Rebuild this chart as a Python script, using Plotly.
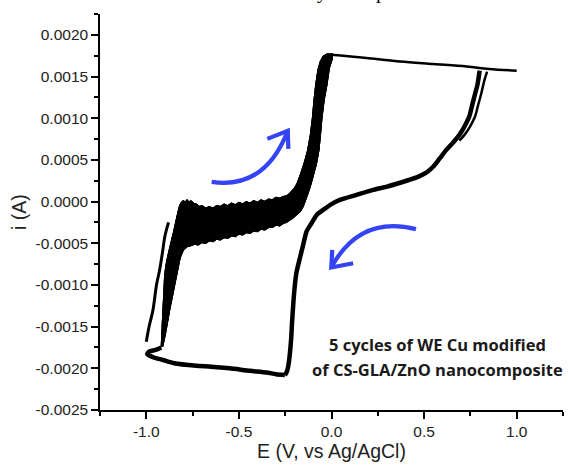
import plotly.graph_objects as go

# ---------------- data ----------------
# noisy forward sweep (band + steep rise): upper/left edge (bottom-left -> top corner)
band_upper_E = [-0.919, -0.914, -0.910, -0.905, -0.901, -0.896, -0.890, -0.882, -0.874, -0.863,
                -0.852, -0.844, -0.836, -0.828, -0.820, -0.810, -0.800, -0.790, -0.780, -0.770,
                -0.760, -0.745, -0.730, -0.715, -0.700, -0.680, -0.660, -0.640, -0.620, -0.600,
                -0.580, -0.560, -0.540, -0.520, -0.500, -0.480, -0.460, -0.440, -0.420, -0.400,
                -0.380, -0.360, -0.340, -0.320, -0.300, -0.280, -0.260, -0.240, -0.220, -0.200,
                -0.185, -0.165, -0.145, -0.128, -0.114, -0.103, -0.094, -0.085, -0.073, -0.060,
                -0.045, -0.025, 0.005]
band_upper_i = [-0.00174, -0.00150, -0.00130, -0.00110, -0.00090, -0.00080, -0.00072, -0.00064, -0.00056, -0.00046,
                -0.00036, -0.00028, -0.00020, -0.00012, -0.00005, -0.00001, 0.00001, -0.00001, 0.00002, -0.00001,
                0.00001, -0.00002, -0.00003, -0.00006, -0.00005, -0.00008, -0.00006, -0.00008, -0.00005, -0.00006,
                -0.00003, -0.00005, -0.00002, -0.00004, -0.00001, -0.00003, 0.00000, -0.00002, 0.00001, -0.00001,
                0.00002, 0.00000, 0.00003, 0.00002, 0.00005, 0.00004, 0.00006, 0.00007, 0.00011, 0.00016,
                0.00022, 0.00034, 0.00048, 0.00062, 0.00080, 0.00100, 0.00122, 0.00140, 0.00158, 0.00168,
                0.00174, 0.00177, 0.00177]
# lower/right edge (top corner -> bottom-left)
band_lower_E = [0.005, -0.012, -0.025, -0.040, -0.052, -0.060, -0.068, -0.082, -0.100, -0.115,
                -0.130, -0.153, -0.170, -0.190, -0.210, -0.225, -0.245, -0.260, -0.280, -0.300,
                -0.320, -0.340, -0.360, -0.380, -0.400, -0.420, -0.440, -0.460, -0.480, -0.500,
                -0.520, -0.540, -0.560, -0.580, -0.600, -0.620, -0.640, -0.660, -0.680, -0.700,
                -0.720, -0.740, -0.760, -0.780, -0.800, -0.812, -0.820, -0.829, -0.838, -0.847,
                -0.856, -0.865, -0.874, -0.882, -0.890, -0.898, -0.906, -0.912]
band_lower_i = [0.00172, 0.00160, 0.00140, 0.00122, 0.00100, 0.00080, 0.00062, 0.00045, 0.00030, 0.00018,
                0.00008, -0.00006, -0.00012, -0.00016, -0.00020, -0.00022, -0.00025, -0.00026, -0.00029, -0.00028,
                -0.00031, -0.00031, -0.00034, -0.00033, -0.00036, -0.00035, -0.00038, -0.00037, -0.00040, -0.00039,
                -0.00042, -0.00041, -0.00044, -0.00043, -0.00046, -0.00045, -0.00048, -0.00047, -0.00050, -0.00049,
                -0.00052, -0.00051, -0.00053, -0.00054, -0.00058, -0.00064, -0.00070, -0.00080, -0.00090, -0.00100,
                -0.00110, -0.00120, -0.00130, -0.00140, -0.00150, -0.00160, -0.00168, -0.00174]

# upper plateau
top_E = [0.000, 0.200, 0.370, 0.550, 0.730, 0.850, 1.000]
top_i = [0.00176, 0.00172, 0.00168, 0.00165, 0.00162, 0.00159, 0.00157]

# reverse (cathodic) sweep
rev_E = [0.800, 0.788, 0.776, 0.760, 0.744, 0.725, 0.705, 0.680, 0.657, 0.620, 0.585, 0.550, 0.514,
         0.470, 0.405, 0.300, 0.225, 0.135, 0.045, 0.000, -0.045, -0.080, -0.108, -0.135, -0.153,
         -0.171, -0.189, -0.200, -0.207, -0.213, -0.218, -0.226, -0.234, -0.245, -0.252]
rev_i = [0.00157, 0.00140, 0.00130, 0.00116, 0.00102, 0.00093, 0.00085, 0.00077, 0.00071, 0.00062, 0.00052, 0.00042, 0.00035,
         0.00030, 0.00025, 0.00018, 0.00014, 0.00008, 0.00002, -0.00003, -0.00010, -0.00016, -0.00026, -0.00036, -0.00052,
         -0.00068, -0.00085, -0.00105, -0.00125, -0.00145, -0.00165, -0.00185, -0.00198, -0.00206, -0.00208]
# second visible strand of the reverse sweep near the plateau
rev2_E = [0.840, 0.825, 0.809, 0.792, 0.775, 0.748, 0.718, 0.690]
rev2_i = [0.00156, 0.00145, 0.00130, 0.00116, 0.00102, 0.00090, 0.00080, 0.00073]

# lower plateau and hook at -1.0 V
bot_E = [-0.252, -0.300, -0.350, -0.440, -0.550, -0.650, -0.730, -0.850, -0.910, -0.960, -0.995, -0.985, -0.950, -0.919]
bot_i = [-0.00208, -0.00207, -0.00205, -0.00203, -0.00200, -0.00198, -0.00197, -0.00194, -0.00190, -0.00187, -0.00183,
         -0.00180, -0.00178, -0.00175]

# first-cycle starting strand
start_E = [-1.000, -0.985, -0.964, -0.945, -0.928, -0.912, -0.900, -0.880]
start_i = [-0.00168, -0.00150, -0.00130, -0.00100, -0.00082, -0.00060, -0.00042, -0.00025]

# axis ticks
x_tickvals = [-1.0, -0.5, 0.0, 0.5, 1.0]
x_ticktext = ["-1.0", "-0.5", "0.0", "0.5", "1.0"]
x_minor = [-1.25, -0.75, -0.25, 0.25, 0.75, 1.25]
y_tickvals = [-0.0025, -0.0020, -0.0015, -0.0010, -0.0005, 0.0, 0.0005, 0.0010, 0.0015, 0.0020]
y_ticktext = ["-0.0025", "-0.0020", "-0.0015", "-0.0010", "-0.0005", "0.0000", "0.0005", "0.0010", "0.0015", "0.0020"]
y_minor = [-0.00225, -0.00175, -0.00125, -0.00075, -0.00025, 0.00025, 0.00075, 0.00125, 0.00175, 0.00225]

# ---------------- figure ----------------
BLACK = "#000000"
BLUE = "#3343F5"
fig = go.Figure()

# the dense band of overlapping noisy cycles; stacked fills keep it solid black
for _ in range(3):
    fig.add_trace(go.Scatter(x=band_upper_E + band_lower_E, y=band_upper_i + band_lower_i,
                             mode="lines", fill="toself", fillcolor=BLACK,
                             line=dict(color=BLACK, width=1.2, simplify=False), hoverinfo="skip"))
fig.add_trace(go.Scatter(x=start_E, y=start_i, mode="lines",
                         line=dict(color=BLACK, width=3, shape="spline")))
fig.add_trace(go.Scatter(x=bot_E, y=bot_i, mode="lines",
                         line=dict(color=BLACK, width=4.5, shape="spline", smoothing=0.6)))
fig.add_trace(go.Scatter(x=top_E, y=top_i, mode="lines",
                         line=dict(color=BLACK, width=2.5, shape="spline")))
fig.add_trace(go.Scatter(x=rev_E, y=rev_i, mode="lines",
                         line=dict(color=BLACK, width=4.5, shape="spline", smoothing=0.6)))
fig.add_trace(go.Scatter(x=rev2_E, y=rev2_i, mode="lines",
                         line=dict(color=BLACK, width=2.5, shape="spline")))

# blue curved arrows (decorations, in data coordinates)
arrow1 = dict(p0=(-0.647, 0.000236), c=(-0.36, 0.00014), p1=(-0.236, 0.00085),
              b1=(-0.3465, 0.000752), b2=(-0.233, 0.000632))
arrow2 = dict(p0=(0.456, -0.00033), c=(0.153, -0.00016), p1=(-0.001, -0.00079),
              b1=(0.004, -0.00058), b2=(0.117, -0.00074))
for a in (arrow1, arrow2):
    fig.add_shape(type="path", xref="x", yref="y",
                  path="M {},{} Q {},{} {},{}".format(*a["p0"], *a["c"], *a["p1"]),
                  line=dict(color=BLUE, width=4.2))
    fig.add_shape(type="path", xref="x", yref="y",
                  path="M {},{} L {},{} L {},{}".format(*a["b1"], *a["p1"], *a["b2"]),
                  line=dict(color=BLUE, width=4.2))

fig.add_annotation(x=0.575, y=-0.00172, xref="x", yref="y", text="5 cycles of WE Cu modified",
                   showarrow=False, xanchor="center", yanchor="middle",
                   font=dict(family="Open Sans", size=16.5, color="#1a1a1a", weight="bold"))
fig.add_annotation(x=0.575, y=-0.00202, xref="x", yref="y", text="of CS-GLA/ZnO nanocomposite",
                   showarrow=False, xanchor="center", yanchor="middle",
                   font=dict(family="Open Sans", size=16.5, color="#1a1a1a", weight="bold"))

# cropped caption fragments at the very top of the image
for txt, px in (("y", 0.479), ("p", 0.607)):
    fig.add_annotation(x=px, y=1, xref="paper", yref="paper", text=txt, showarrow=False,
                       xanchor="center", yanchor="bottom", yshift=9,
                       font=dict(family="Liberation Serif", size=20, color=BLACK))

axis_common = dict(showgrid=False, zeroline=False, showline=True, linecolor=BLACK, linewidth=1.5,
                   ticks="outside", ticklen=7, tickwidth=1.5, tickcolor=BLACK,
                   tickfont=dict(family="Liberation Sans, Arial", size=15.5, color="#222222"),
                   tickmode="array", mirror=False)
fig.update_xaxes(range=[-1.25, 1.25], tickvals=x_tickvals, ticktext=x_ticktext,
                 minor=dict(tickmode="array", tickvals=x_minor, ticks="outside", ticklen=4,
                            tickwidth=1.5, tickcolor=BLACK),
                 title=dict(text="E (V, vs Ag/AgCl)", standoff=4,
                            font=dict(family="Liberation Sans, Arial", size=19.5, color="#222222")),
                 **axis_common)
fig.update_yaxes(range=[-0.0025, 0.00225], tickvals=y_tickvals, ticktext=y_ticktext,
                 minor=dict(tickmode="array", tickvals=y_minor, ticks="outside", ticklen=4,
                            tickwidth=1.5, tickcolor=BLACK),
                 title=dict(text="i (A)", standoff=4,
                            font=dict(family="Liberation Sans, Arial", size=19.5, color="#222222")),
                 **axis_common)

fig.update_layout(width=568, height=472, autosize=False, showlegend=False,
                  margin=dict(l=100, r=5, t=14, b=62),
                  paper_bgcolor="white", plot_bgcolor="white")

fig.write_html("out.html")
